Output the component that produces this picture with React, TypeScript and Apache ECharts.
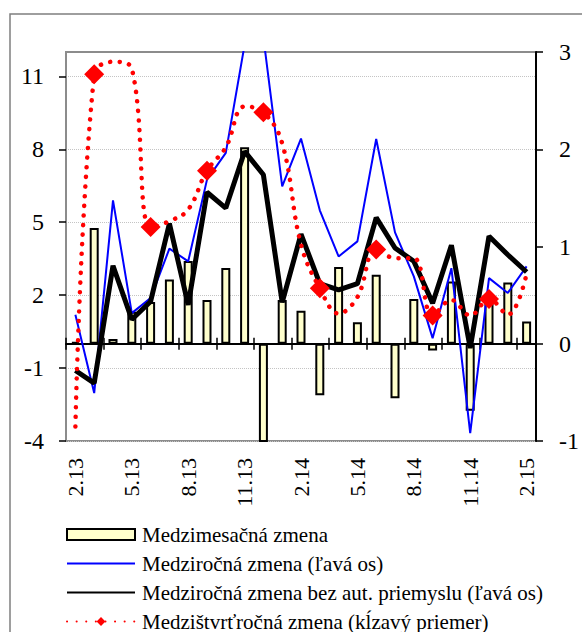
import React, { useEffect, useRef } from 'react';
import * as echarts from 'echarts';

const categories = ['2.13', '3.13', '4.13', '5.13', '6.13', '7.13', '8.13', '9.13', '10.13', '11.13', '12.13', '1.14', '2.14', '3.14', '4.14', '5.14', '6.14', '7.14', '8.14', '9.14', '10.14', '11.14', '12.14', '1.15', '2.15'];

// Medzimesačná zmena (pravá os)
const monthly = [0.02, 1.19, 0.05, 0.33, 0.43, 0.66, 0.85, 0.45, 0.78, 2.02, -1.05, 0.45, 0.34, -0.53, 0.79, 0.22, 0.71, -0.56, 0.46, -0.07, 0.64, -0.69, 0.45, 0.63, 0.23];
// Medziročná zmena (ľavá os)
const yoy = [1.19, -2.03, 5.9, 1.26, 1.88, 3.91, 3.39, 6.75, 7.85, 12.3, 12.6, 6.47, 8.44, 5.49, 3.59, 4.21, 8.42, 4.58, 2.77, 0.23, 3.11, -3.68, 2.7, 2.09, 3.18];
// Medziročná zmena bez aut. priemyslu (ľavá os)
const yoyExAuto = [-1.1, -1.62, 3.21, 1.0, 1.74, 4.94, 1.6, 6.23, 5.58, 7.91, 6.95, 1.7, 4.51, 2.47, 2.22, 2.47, 5.19, 3.94, 3.39, 1.67, 4.05, -0.18, 4.42, 3.66, 2.95];
// Medzištvrťročná zmena (kĺzavý priemer) (pravá os)
const qoq = [-0.85, 2.77, 2.9, 2.83, 1.2, 1.26, 1.38, 1.78, 2.02, 2.44, 2.38, 2.06, 1.02, 0.57, 0.31, 0.48, 0.97, 0.88, 0.88, 0.29, 0.45, 0.29, 0.46, 0.3, 0.72];
const qoqMarkerIdx = [1, 4, 7, 10, 13, 16, 19, 22];

const leftTicks = [-4, -1, 2, 5, 8, 11];
const leftMin = -4;
const leftMax = 12;
const rightMin = -1;
const rightMax = 3;

const names = [
  'Medzimesačná zmena',
  'Medziročná zmena (ľavá os)',
  'Medziročná zmena bez aut. priemyslu (ľavá os)',
  'Medzištvrťročná zmena (kĺzavý priemer)',
];

const FONT = 'Liberation Serif';

export default function App() {
  const ref = useRef<HTMLDivElement>(null);
  useEffect(() => {
    const chart = echarts.init(ref.current!, null, { renderer: 'svg', width: 582, height: 632 });
    const zeroAxisBase = {
      type: 'category',
      data: categories,
      gridIndex: 0,
      axisLabel: { show: false },
      splitLine: { show: false },
    };
    const hiddenSymbol = { color: 'rgba(0,0,0,0)', borderColor: 'rgba(0,0,0,0)', borderWidth: 0 };
    const option: any = {
      animation: false,
      backgroundColor: '#ffffff',
      textStyle: { fontFamily: FONT },
      graphic: [
        {
          type: 'rect',
          shape: { x: 10, y: 14, width: 640, height: 700 },
          style: { fill: 'none', stroke: '#7f7f7f', lineWidth: 1.5 },
          silent: true,
        },
      ],
      grid: {
        left: 66,
        right: 43,
        top: 52,
        bottom: 191,
        show: true,
        borderColor: '#8c8c8c',
        borderWidth: 2,
        backgroundColor: 'transparent',
      },
      legend: {
        orient: 'vertical',
        left: 66,
        top: 524,
        height: 160,
        width: 500,
        padding: 0,
        itemWidth: 68,
        itemHeight: 11,
        itemGap: 8,
        textStyle: { fontFamily: FONT, fontSize: 21, lineHeight: 21, color: '#000', padding: [0, 0, 0, 2] },
        data: [
          { name: names[0], icon: 'rect' },
          { name: names[1], itemStyle: hiddenSymbol },
          { name: names[2], itemStyle: hiddenSymbol },
          { name: names[3] },
        ],
      },
      xAxis: [
        {
          type: 'category',
          data: categories,
          position: 'bottom',
          axisLine: { show: false, onZero: false },
          axisTick: { show: false },
          splitLine: { show: false },
          axisLabel: {
            interval: 2,
            rotate: 90,
            margin: 17,
            fontSize: 22,
            fontFamily: FONT,
            color: '#000',
          },
        },
        {
          ...zeroAxisBase,
          position: 'bottom',
          axisLine: { show: true, onZero: true, onZeroAxisIndex: 0, lineStyle: { color: '#000', width: 2 } },
          axisTick: { show: true, inside: true, length: 6, lineStyle: { color: '#000', width: 1.5 } },
        },
        {
          ...zeroAxisBase,
          position: 'bottom',
          axisLine: { show: false, onZero: true, onZeroAxisIndex: 0 },
          axisTick: { show: true, inside: false, length: 6, lineStyle: { color: '#000', width: 1.5 } },
        },
      ],
      yAxis: [
        {
          type: 'value',
          position: 'left',
          min: leftMin,
          max: leftMax,
          axisLine: { show: true, onZero: false, lineStyle: { color: '#8c8c8c', width: 2 } },
          axisTick: { show: true, customValues: leftTicks, length: 7, lineStyle: { color: '#000', width: 1.5 } },
          axisLabel: { customValues: leftTicks, margin: 22, fontSize: 24, fontFamily: FONT, color: '#000' },
          splitLine: { show: true, lineStyle: { color: '#c4c4c4', type: 'dotted', width: 1 } },
        },
        {
          type: 'value',
          position: 'right',
          min: rightMin,
          max: rightMax,
          interval: 1,
          axisLine: { show: true, onZero: false, lineStyle: { color: '#000', width: 2 } },
          axisTick: { show: true, length: 7, lineStyle: { color: '#000', width: 1.5 } },
          axisLabel: { margin: 23, fontSize: 24, fontFamily: FONT, color: '#000' },
          splitLine: { show: false },
        },
      ],
      series: [
        {
          name: names[0],
          type: 'bar',
          xAxisIndex: 0,
          yAxisIndex: 1,
          data: monthly,
          barWidth: 9,
          clip: true,
          itemStyle: { color: '#ffffcc', borderColor: '#000', borderWidth: 2 },
          z: 1,
        },
        {
          name: names[1],
          type: 'line',
          xAxisIndex: 0,
          yAxisIndex: 0,
          data: yoy,
          symbol: 'none',
          clip: true,
          lineStyle: { color: '#0000ff', width: 2 },
          itemStyle: { color: '#0000ff' },
          z: 3,
        },
        {
          name: names[2],
          type: 'line',
          xAxisIndex: 0,
          yAxisIndex: 0,
          data: yoyExAuto,
          symbol: 'none',
          clip: true,
          lineStyle: { color: '#000', width: 5 },
          itemStyle: { color: '#000' },
          z: 4,
        },
        {
          name: names[3],
          type: 'line',
          xAxisIndex: 0,
          yAxisIndex: 1,
          smooth: 0.4,
          symbol: 'diamond',
          symbolSize: 20,
          showSymbol: true,
          showAllSymbol: true,
          clip: true,
          data: qoq.map((v, i) => ({
            value: v,
            symbol: qoqMarkerIdx.includes(i) ? 'diamond' : 'none',
          })),
          lineStyle: { color: '#ff0000', width: 4.5, type: [0.1, 9.5], cap: 'round' },
          itemStyle: { color: '#ff0000' },
          z: 5,
        },
      ],
    };
    chart.setOption(option);
    return () => chart.dispose();
  }, []);
  return (
    <div
      ref={ref}
      style={{ position: 'absolute', left: 0, top: 0, width: 582, height: 632, background: '#fff' }}
    />
  );
}
